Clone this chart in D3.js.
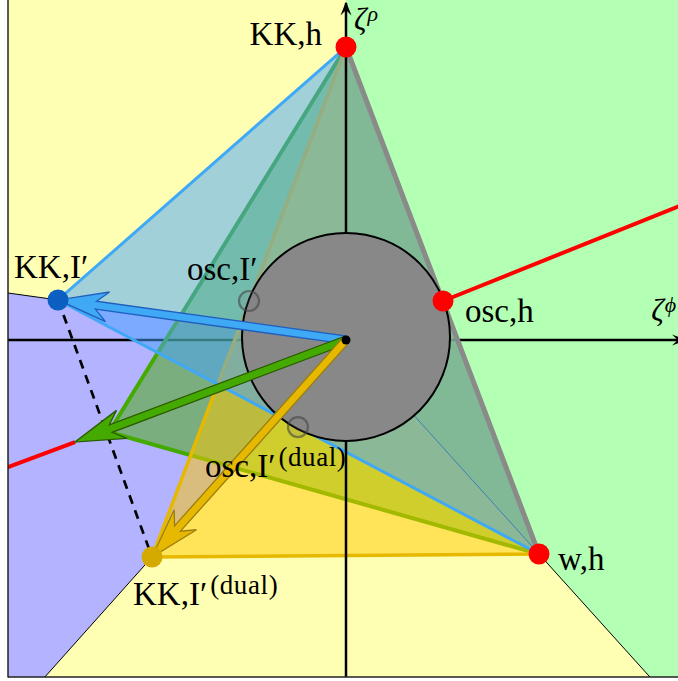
<!DOCTYPE html>
<html><head><meta charset="utf-8">
<script src="https://cdn.jsdelivr.net/npm/d3@7"></script>
<style>body{margin:0;background:#fff}svg{display:block}</style>
</head><body>
<script>
// ---- data (coordinates in (ζ^φ, ζ^ρ) units; inner circle radius = 1) ----
const origin = [0, 0];
const KKh = [0, 2.817];
const oscH = [0.933, 0.375];
const wH = [1.856, -2.058];
const KKI = [-2.769, 0.385];
const KKIdual = [-1.865, -2.087];
const oscI = [-0.933, 0.375];
const oscIdual = [-0.462, -0.837];
const greenTip = [-2.606, -0.981];
const greenVertex = [-2.279, -0.885];
const circleCenter = [0, 0.03];
const circleRadius = 1;
const axisDomain = [-3.25, 3.25];
const axisNames = ["ζ", "ζ"];
const axisSups = ["ϕ", "ρ"];
const labelTexts = ["KK,h", "KK,I′", "osc,I′", "osc,h", "w,h", "osc,I′", "KK,I′"];
const labelSups = ["", "", "", "", "", "(dual)", "(dual)"];
const labelPoints = [KKh, KKI, oscI, oscH, wH, oscIdual, KKIdual];

// ---- layout ----
const W = 678, H = 681;
const x = d3.scaleLinear().domain(axisDomain).range([8, 684]);
const y = d3.scaleLinear().domain(axisDomain).range([678, 2]);
const P = p => [x(p[0]), y(p[1])];
const far = (p, k) => [p[0] * k, p[1] * k];

const svg = d3.select("body").append("svg").attr("width", W).attr("height", H);
svg.append("clipPath").attr("id", "clip").append("rect")
  .attr("x", 8).attr("y", 0).attr("width", 680).attr("height", 677);
const g = svg.append("g").attr("clip-path", "url(#clip)");
const line = d3.line();

// background regions
g.append("rect").attr("x", 0).attr("y", 0).attr("width", W).attr("height", H).attr("fill", "#ffffb3");
const wDir = far(wH, 30 / Math.hypot(wH[0], wH[1]));
g.append("path").attr("d", line([origin, wDir, [40, 0], [40, 40], [0, 40]].map(P)) + "Z").attr("fill", "#b3ffb3");
g.append("path").attr("d", line([origin, far(KKI, 10), far(KKIdual, 12)].map(P)) + "Z").attr("fill", "#b3b3ff");
// region borders (rays from the points outward)
[KKI, KKIdual, wH].forEach(p => {
  g.append("path").attr("d", line([p, far(p, 10)].map(P))).attr("stroke", "#000").attr("stroke-width", 1).attr("fill", "none");
});

// horizontal axis (under the fills)
g.append("line").attr("x1", x(axisDomain[0])).attr("y1", y(0)).attr("x2", x(3.22)).attr("y2", y(0))
  .attr("stroke", "#000").attr("stroke-width", 2.5);

// triangles
function tri(pts, fill, stroke, sw) {
  g.append("path").attr("d", line(pts.map(P)) + "Z").attr("fill", fill).attr("fill-opacity", 0.5)
    .attr("stroke", stroke).attr("stroke-width", sw).attr("stroke-linejoin", "round");
}
tri([KKh, greenVertex, wH], "#44aa00", "#44aa00", 4);
tri([KKh, KKIdual, wH], "#ffc700", "#e6b800", 3.5);
g.append("path").attr("d", line([origin, wH].map(P))).attr("stroke", "#3b5b6b").attr("stroke-width", 1).attr("fill", "none");
tri([KKh, KKI, wH], "#45a1ff", "#3fa9f5", 3);
g.append("path").attr("d", line([KKh, wH].map(P))).attr("stroke", "#8a8a8a").attr("stroke-width", 5).attr("fill", "none");

// vertical axis (over the fills)
g.append("line").attr("x1", x(0)).attr("y1", y(axisDomain[0])).attr("x2", x(0)).attr("y2", y(3.24))
  .attr("stroke", "#000").attr("stroke-width", 2.5);

// red rays
[oscH, greenTip].forEach(p => {
  g.append("path").attr("d", line([p, far(p, 10)].map(P))).attr("stroke", "#ff0000").attr("stroke-width", 4).attr("fill", "none");
});

// dashed
g.append("path").attr("d", line([KKI, KKIdual].map(P))).attr("stroke", "#000").attr("stroke-width", 2.7)
  .attr("stroke-dasharray", "9,7").attr("fill", "none");

// big circle
g.append("circle").attr("cx", x(circleCenter[0])).attr("cy", y(circleCenter[1]))
  .attr("r", x(circleRadius) - x(0)).attr("fill", "#888888").attr("stroke", "#000").attr("stroke-width", 2);

// small circles
[oscI, oscIdual].forEach(p => {
  g.append("circle").attr("cx", P(p)[0]).attr("cy", P(p)[1]).attr("r", 10)
    .attr("fill", "#777").attr("fill-opacity", 0.15).attr("stroke", "#444").attr("stroke-opacity", 0.6).attr("stroke-width", 2.2);
});

// arrows
function arrow(from, to, fill, stroke) {
  const p0 = P(from), p1 = P(to);
  const dx = p1[0] - p0[0], dy = p1[1] - p0[1], L = Math.hypot(dx, dy);
  const ux = dx / L, uy = dy / L, nx = -uy, ny = ux;
  const Q = (s, t) => [p1[0] - ux * s + nx * t, p1[1] - uy * s + ny * t];
  const hl = 50, hw = 15, notch = 34, sw = 4;
  const sj = notch + (hl - notch) * (sw / hw);
  const pts = [Q(L, -sw), Q(sj, -sw), Q(hl, -hw), Q(0, 0), Q(hl, hw), Q(sj, sw), Q(L, sw)];
  g.append("path").attr("d", line(pts) + "Z").attr("fill", fill).attr("stroke", stroke)
    .attr("stroke-width", 1.3).attr("stroke-linejoin", "miter");
}
arrow(origin, KKI, "#3fa9f5", "#1f5fbf");
arrow(origin, greenTip, "#44aa00", "#2b5a00");
arrow(origin, KKIdual, "#e6b800", "#9a7d10");

// center dot
g.append("circle").attr("cx", x(0)).attr("cy", y(0)).attr("r", 4.5).attr("fill", "#000");

// dots
[[KKh, "#ff0000"], [oscH, "#ff0000"], [wH, "#ff0000"], [KKI, "#0a5fc0"], [KKIdual, "#d4aa00"]].forEach(([p, c]) => {
  g.append("circle").attr("cx", P(p)[0]).attr("cy", P(p)[1]).attr("r", 10.5).attr("fill", c);
});

// axis arrowheads
function axHead(tip, dirx, diry) {
  const t = P(tip), len = 14, hw = 5.5;
  const bx = t[0] - dirx * len, by = t[1] - diry * len;
  const nx = -diry, ny = dirx;
  const pts = [[bx + nx * hw, by + ny * hw], t, [bx - nx * hw, by - ny * hw], [t[0] - dirx * len * 0.6, t[1] - diry * len * 0.6]];
  g.append("path").attr("d", line(pts) + "Z").attr("fill", "#000");
}
axHead([3.27, 0], 1, 0);
axHead([0, 3.255], 0, -1);

// frame
svg.append("line").attr("x1", 8).attr("y1", 0).attr("x2", 8).attr("y2", 677.5).attr("stroke", "#222").attr("stroke-width", 1.5);
svg.append("line").attr("x1", 8).attr("y1", 677).attr("x2", W).attr("y2", 677).attr("stroke", "#222").attr("stroke-width", 1.5);

// labels
const font = "'Liberation Serif', 'Times New Roman', serif";
const offs = [[-24, -2, "end"], [-44, -22, "start"], [-62, -21, "start"], [22, 21, "start"], [19, 16, "start"], [-93, 50, "start"], [-19, 48, "start"]];
labelTexts.forEach((t, i) => {
  const p = P(labelPoints[i]);
  const [dx, dy, anchor] = offs[i];
  const tx = svg.append("text").attr("x", p[0] + dx).attr("y", p[1] + dy).attr("text-anchor", anchor)
    .attr("font-family", font).attr("font-size", 33).attr("fill", "#000").text(t);
  if (labelSups[i]) {
    const len = tx.node().getComputedTextLength();
    svg.append("text").attr("x", p[0] + dx + len + 3).attr("y", p[1] + dy - 11)
      .attr("font-family", font).attr("font-size", 27).attr("letter-spacing", 0.6).attr("fill", "#000").text(labelSups[i]);
  }
});
// axis labels
const axPos = [[x(2.935), y(0) - 19], [x(0) + 8, y(2.985)]];
axisNames.forEach((n, i) => {
  const t = svg.append("text").attr("x", axPos[i][0]).attr("y", axPos[i][1]).attr("font-family", font)
    .attr("font-style", "italic").attr("font-size", 31).text(n);
  const len = t.node().getComputedTextLength();
  svg.append("text").attr("x", axPos[i][0] + len + 1).attr("y", axPos[i][1] - 9).attr("font-family", font)
    .attr("font-style", "italic").attr("font-size", 22).text(axisSups[i]);
});
</script>
</body></html>
